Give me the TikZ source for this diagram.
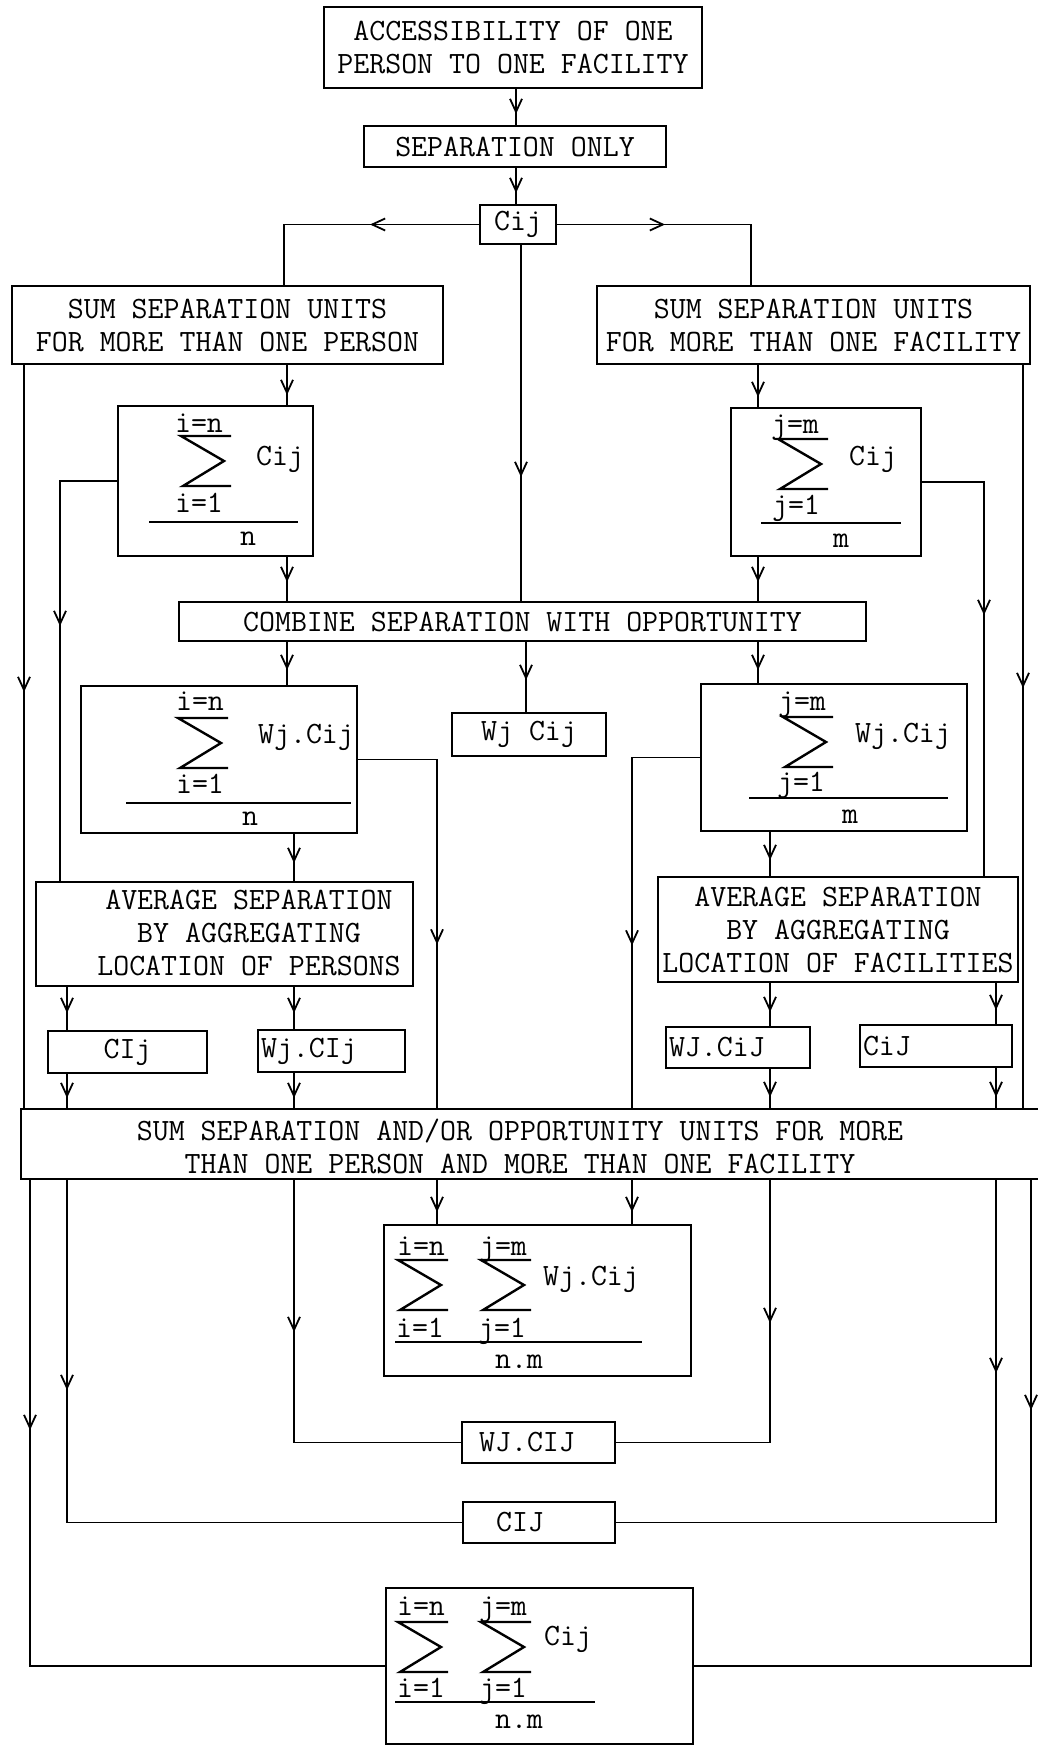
\documentclass[tikz,border=0pt]{standalone}
\usetikzlibrary{arrows.meta,decorations.markings}
\newcommand\twfont{\fontsize{31}{33}\selectfont\ttfamily}
\tikzset{
  box/.style={draw, line width=1.9pt, inner sep=0pt, outer sep=0pt, align=center, font=\twfont},
  txt/.style={inner sep=0pt, outer sep=0pt, align=center, font=\twfont},
  conn/.style={line width=1.3pt},
  arrowat/.style={postaction={decorate}, decoration={markings, mark=at position #1 with {\arrow{Straight Barb[length=13pt,width=12pt,line width=1.8pt]}}}},
  sigline/.style={line width=2.4pt, line join=miter, line cap=butt},
  fbar/.style={line width=2.2pt},
  bigsum/.pic={\draw[sigline] (50,0) -- (0,0) -- (43,25) -- (2,50) -- (50,50);},
}
\begin{document}
\begin{tikzpicture}[x=1pt,y=-1pt]
\path[use as bounding box, fill=white] (0,0) rectangle (1037,1747);

% column coordinates
\coordinate (colT) at (516,0);
\coordinate (colM) at (521,0);
\coordinate (colN) at (526,0);
\coordinate (colA) at (284,0);
\coordinate (colF) at (751,0);
\coordinate (colB) at (287,0);
\coordinate (colBB) at (294,0);
\coordinate (colC) at (758,0);
\coordinate (colCC) at (770,0);
\coordinate (colL) at (24,0);
\coordinate (colLL) at (30,0);
\coordinate (colR) at (1023,0);
\coordinate (colRR) at (1031,0);
\coordinate (colD) at (60,0);
\coordinate (colE) at (984,0);
\coordinate (colG) at (67,0);
\coordinate (colH) at (437,0);
\coordinate (colI) at (632,0);
\coordinate (colJ) at (996,0);

% boxes
\node[box, minimum width=378pt, minimum height=81pt] (top) at (513,47.5) {ACCESSIBILITY OF ONE\\PERSON TO ONE FACILITY};
\node[box, minimum width=302pt, minimum height=41pt] (sep) at (515,146.5) {SEPARATION ONLY};
\node[box, minimum width=76pt, minimum height=39pt] (cij) at (518,224.5) {Cij};
\node[box, minimum width=431pt, minimum height=78pt] (sumP) at (227.5,325) {SUM SEPARATION UNITS\\FOR MORE THAN ONE PERSON};
\node[box, minimum width=433pt, minimum height=78pt] (sumF) at (813.5,325) {SUM SEPARATION UNITS\\FOR MORE THAN ONE FACILITY};
\node[box, minimum width=195pt, minimum height=150pt] (sigP) at (215.5,481) {};
\node[box, minimum width=190pt, minimum height=148pt] (sigF) at (826,482) {};
\node[box, minimum width=687pt, minimum height=39pt] (comb) at (522.5,621.5) {COMBINE SEPARATION WITH OPPORTUNITY};
\node[box, minimum width=276pt, minimum height=147pt] (wsigP) at (219,759.5) {};
\node[box, minimum width=154pt, minimum height=43pt] (wcij) at (529,734.5) {Wj Cij};
\node[box, minimum width=266pt, minimum height=147pt] (wsigF) at (834,757.5) {};
\node[box, minimum width=377pt, minimum height=104pt] (avgP) at (224.5,934) {};
\node[txt] (avgPt) at (249,933) {AVERAGE SEPARATION\\BY AGGREGATING\\LOCATION OF PERSONS};
\node[box, minimum width=360pt, minimum height=105pt] (avgF) at (838,929.5) {AVERAGE SEPARATION\\BY AGGREGATING\\LOCATION OF FACILITIES};
\node[box, minimum width=159pt, minimum height=42pt] (cIj) at (127.5,1052) {CIj};
\node[box, minimum width=147pt, minimum height=42pt] (wCIj) at (331.5,1051) {};
\node[txt, anchor=west] (wCIjt) at (261,1051) {Wj.CIj};
\node[box, minimum width=144pt, minimum height=41pt] (WJCiJ) at (738,1047.5) {};
\node[txt, anchor=west] (WJCiJt) at (669,1047.5) {WJ.CiJ};
\node[box, minimum width=152pt, minimum height=42pt] (CiJ) at (936,1046) {};
\node[txt, anchor=west] (CiJt) at (863,1046) {CiJ};
\node[box, minimum width=1030pt, minimum height=70pt] (big) at (536,1144) {};
\node[txt] (bigt) at (520,1146) {SUM SEPARATION AND/OR OPPORTUNITY UNITS FOR MORE\\THAN ONE PERSON AND MORE THAN ONE FACILITY};
\node[box, minimum width=307pt, minimum height=151pt] (dsig) at (537.5,1300.5) {};
\node[box, minimum width=153pt, minimum height=41pt] (WJCIJ) at (538.5,1442.5) {};
\node[txt] (WJCIJt) at (527,1442.5) {WJ.CIJ};
\node[box, minimum width=152pt, minimum height=41pt] (CIJ) at (539,1522.5) {};
\node[txt] (CIJt) at (520,1522.5) {CIJ};
\node[box, minimum width=307pt, minimum height=156pt] (dsig2) at (539.5,1666) {};

% formula: sigP
\pic at (181,436) {bigsum};
\node[txt, anchor=base] (sPa) at (199,432) {i=n};
\node[txt, anchor=base] (sPb) at (280,465) {Cij};
\node[txt, anchor=base] (sPc) at (199,512) {i=1};
\draw[fbar] (149,522) -- (298,522);
\node[txt, anchor=base] (sPd) at (248,545) {n};

% formula: sigF
\pic at (778,439) {bigsum};
\node[txt, anchor=base] (sFa) at (795,433) {j=m};
\node[txt, anchor=base] (sFb) at (873,465) {Cij};
\node[txt, anchor=base] (sFc) at (796,514) {j=1};
\draw[fbar] (761,523) -- (901,523);
\node[txt, anchor=base] (sFd) at (841,547) {m};

% formula: wsigP
\pic at (178,718) {bigsum};
\node[txt, anchor=base] (wPa) at (200,710) {i=n};
\node[txt, anchor=base] (wPb) at (306,743) {Wj.Cij};
\node[txt, anchor=base] (wPc) at (200,793) {i=1};
\draw[fbar] (126,803) -- (351,803);
\node[txt, anchor=base] (wPd) at (250,825) {n};

% formula: wsigF
\pic at (783,717) {bigsum};
\node[txt, anchor=base] (wFa) at (802,710) {j=m};
\node[txt, anchor=base] (wFb) at (903,742) {Wj.Cij};
\node[txt, anchor=base] (wFc) at (801,791) {j=1};
\draw[fbar] (749,798) -- (948,798);
\node[txt, anchor=base] (wFd) at (850,823) {m};

% formula: dsig
\pic at (398,1260) {bigsum};
\pic at (481,1260) {bigsum};
\node[txt, anchor=base] (dAa) at (421,1255) {i=n};
\node[txt, anchor=base] (dAb) at (503,1255) {j=m};
\node[txt, anchor=base] (dAc) at (591,1285) {Wj.Cij};
\node[txt, anchor=base] (dAd) at (420,1337) {i=1};
\node[txt, anchor=base] (dAe) at (502,1337) {j=1};
\draw[fbar] (395,1342) -- (642,1342);
\node[txt, anchor=base] (dAf) at (519,1368) {n.m};

% formula: dsig2
\pic at (398,1622) {bigsum};
\pic at (481,1622) {bigsum};
\node[txt, anchor=base] (dBa) at (421,1615) {i=n};
\node[txt, anchor=base] (dBb) at (503,1615) {j=m};
\node[txt, anchor=base] (dBc) at (568,1645) {Cij};
\node[txt, anchor=base] (dBd) at (421,1697) {i=1};
\node[txt, anchor=base] (dBe) at (503,1697) {j=1};
\draw[fbar] (395,1702) -- (595,1702);
\node[txt, anchor=base] (dBf) at (519,1728) {n.m};

% connectors
\draw[conn, arrowat=-12pt] (top.south -| colT) -- (sep.north -| colT);
\draw[conn, arrowat=-12pt] (sep.south -| colT) -- (cij.north -| colT);
\draw[conn, arrowat=110pt] (cij.west) -| (sumP.north -| colA);
\draw[conn, arrowat=109pt] (cij.east) -| (sumF.north -| colF);
\draw[conn, arrowat=233pt] (cij.south -| colM) -- (comb.north -| colM);
\draw[conn, arrowat=-11pt] (sumP.south -| colB) -- (sigP.north -| colB);
\draw[conn, arrowat=-11pt] (sumF.south -| colC) -- (sigF.north -| colC);
\draw[conn, arrowat=328pt] (sumP.south -| colL) -- (big.north -| colL);
\draw[conn, arrowat=324pt] (sumF.south -| colR) -- (big.north -| colR);
\draw[conn, arrowat=203pt] (sigP.west) -| (avgP.north -| colD);
\draw[conn, arrowat=196pt] (sigF.east) -| (avgF.north -| colE);
\draw[conn, arrowat=-20pt] (sigP.south -| colB) -- (comb.north -| colB);
\draw[conn, arrowat=-20pt] (sigF.south -| colC) -- (comb.north -| colC);
\draw[conn, arrowat=-16pt] (comb.south -| colB) -- (wsigP.north -| colB);
\draw[conn, arrowat=-33pt] (comb.south -| colN) -- (wcij.north -| colN);
\draw[conn, arrowat=-14pt] (comb.south -| colC) -- (wsigF.north -| colC);
\draw[conn, arrowat=265pt] (wsigP.east) -| (big.north -| colH);
\draw[conn, arrowat=257pt] (wsigF.west) -| (big.north -| colI);
\draw[conn, arrowat=-19pt] (wsigP.south -| colBB) -- (avgP.north -| colBB);
\draw[conn, arrowat=-17pt] (wsigF.south -| colCC) -- (avgF.north -| colCC);
\draw[conn, arrowat=-18pt] (avgP.south -| colG) -- (cIj.north -| colG);
\draw[conn, arrowat=-17pt] (avgP.south -| colBB) -- (wCIj.north -| colBB);
\draw[conn, arrowat=-11pt] (cIj.south -| colG) -- (big.north -| colG);
\draw[conn, arrowat=-11pt] (wCIj.south -| colBB) -- (big.north -| colBB);
\draw[conn, arrowat=-15pt] (avgF.south -| colCC) -- (WJCiJ.north -| colCC);
\draw[conn, arrowat=-15pt] (avgF.south -| colJ) -- (CiJ.north -| colJ);
\draw[conn, arrowat=-12pt] (WJCiJ.south -| colCC) -- (big.north -| colCC);
\draw[conn, arrowat=-12pt] (CiJ.south -| colJ) -- (big.north -| colJ);
\draw[conn, arrowat=-13pt] (big.south -| colH) -- (dsig.north -| colH);
\draw[conn, arrowat=-13pt] (big.south -| colI) -- (dsig.north -| colI);
\draw[conn, arrowat=153pt] (big.south -| colBB) |- (WJCIJ.west);
\draw[conn, arrowat=144pt] (big.south -| colCC) |- (WJCIJ.east);
\draw[conn, arrowat=211pt] (big.south -| colG) |- (CIJ.west);
\draw[conn, arrowat=194pt] (big.south -| colJ) |- (CIJ.east);
\draw[conn, arrowat=251pt] (big.south -| colLL) |- (dsig2.west);
\draw[conn, arrowat=231pt] (big.south -| colRR) |- (dsig2.east);
\end{tikzpicture}
\end{document}
